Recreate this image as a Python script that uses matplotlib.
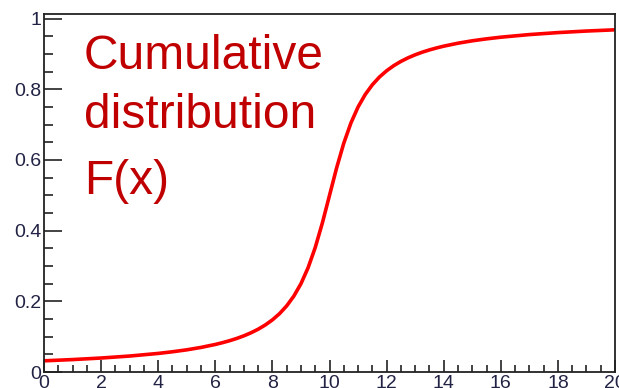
import matplotlib.pyplot as plt
from matplotlib.ticker import MultipleLocator

# cumulative distribution, values
x_vals = [0, 1, 2, 3, 4, 4.5, 5, 5.5, 6, 6.25, 6.5, 6.75,
          7, 7.25, 7.5, 7.75, 8, 8.25, 8.5, 8.75, 9, 9.25, 9.5, 9.75,
          10, 10.25, 10.5, 10.75, 11, 11.25, 11.5, 11.75, 12, 12.25, 12.5, 12.75,
          13, 13.25, 13.5, 13.75, 14, 14.5, 15, 15.5, 16, 17, 18, 19, 20]
cdf_vals = [0.0317, 0.0352, 0.0396, 0.0452, 0.0526, 0.0573, 0.0628, 0.0696,
            0.0780, 0.0830, 0.0886, 0.0950,
            0.1024, 0.1110, 0.1211, 0.1331, 0.1476, 0.1652, 0.1872, 0.2148,
            0.2500, 0.2952, 0.3524, 0.4220,
            0.5000, 0.5780, 0.6476, 0.7048, 0.7500, 0.7852, 0.8128, 0.8348,
            0.8524, 0.8669, 0.8789, 0.8890,
            0.8976, 0.9050, 0.9114, 0.9170, 0.9220, 0.9304, 0.9372, 0.9427,
            0.9474, 0.9548, 0.9604, 0.9648, 0.9683]
title_lines = ["Cumulative", "distribution", "F(x)"]

plt.rcParams['font.family'] = ['Liberation Sans', 'DejaVu Sans']

fig = plt.figure(figsize=(6.19, 3.88), dpi=100, facecolor='white')
ax = fig.add_axes([0.0711, 0.0412, 0.9225, 0.9227])

ax.plot(x_vals, cdf_vals, color='#ff0000', linewidth=2.6, solid_capstyle='butt')

ax.set_xlim(0, 20)
ax.set_ylim(0, 1.013)

# ROOT style ticks: inside, only left and bottom
ax.xaxis.set_major_locator(MultipleLocator(2))
ax.xaxis.set_minor_locator(MultipleLocator(0.5))
ax.yaxis.set_major_locator(MultipleLocator(0.2))
ax.yaxis.set_minor_locator(MultipleLocator(0.05))
ax.set_yticks([0, 0.2, 0.4, 0.6, 0.8, 1.0])
ax.set_yticklabels(['0', '0.2', '0.4', '0.6', '0.8', '1'])

ax.tick_params(axis='both', which='both', direction='in', colors='#222222',
               width=1.2, labelsize=14, labelcolor='#222244')
ax.tick_params(axis='y', which='major', length=13, pad=2)
ax.tick_params(axis='y', which='minor', length=6.8)
ax.tick_params(axis='x', which='major', length=8.6, pad=2)
ax.tick_params(axis='x', which='minor', length=4.7)

for sp in ax.spines.values():
    sp.set_linewidth(1.3)
    sp.set_color('#222222')

# big text in the upper left
ys = [69, 128, 194]
for line, yp in zip(title_lines, ys):
    fig.text(84 / 619, 1 - yp / 388, line, color='#c00000', fontsize=34.5,
             ha='left', va='baseline')

fig.savefig('out.png', dpi=100)
